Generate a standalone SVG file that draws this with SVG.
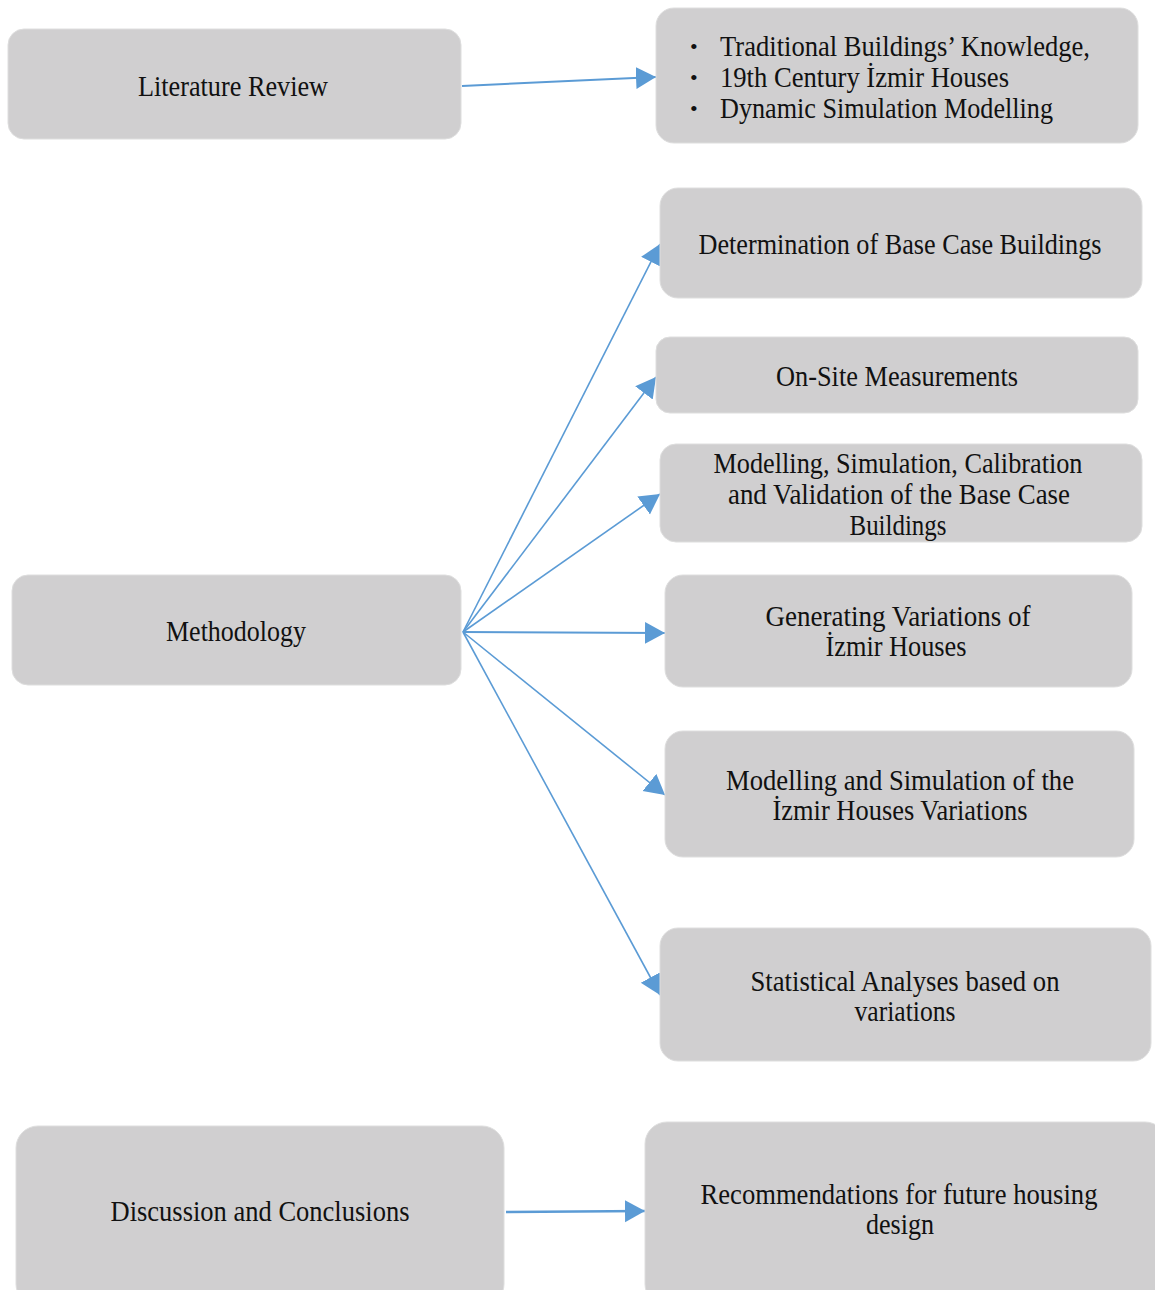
<svg xmlns="http://www.w3.org/2000/svg" width="1155" height="1290" viewBox="0 0 1155 1290">
  <style>
    .box { fill: #d0cfd0; stroke: #dedede; stroke-width: 1; }
    .lbl { font-family: "Liberation Serif", "Times New Roman", serif; font-size: 29px; fill: #111; }
    .dot { font-family: "Liberation Serif", "Times New Roman", serif; font-size: 22px; fill: #111; }
    .mid { text-anchor: middle; }
    .edge { stroke: #5b9bd5; stroke-width: 1.6; fill: none; marker-end: url(#head); }
  </style>
  <defs>
    <marker id="head" markerUnits="userSpaceOnUse" markerWidth="22" markerHeight="24" refX="20" refY="12" orient="auto">
      <path d="M0,1 L20,12 L0,23 z" fill="#5b9bd5"/>
    </marker>
  </defs>
  <rect width="1155" height="1290" fill="#fff"/>

  <g id="connectors">
    <line class="edge" x1="462" y1="86" x2="656" y2="77" style="stroke-width:2"/>
    <line class="edge" x1="463" y1="632" x2="660" y2="244"/>
    <line class="edge" x1="463" y1="632" x2="656" y2="377"/>
    <line class="edge" x1="463" y1="632" x2="660" y2="494"/>
    <line class="edge" x1="463" y1="632" x2="665" y2="633" style="stroke-width:2"/>
    <line class="edge" x1="463" y1="632" x2="665" y2="795"/>
    <line class="edge" x1="463" y1="632" x2="660" y2="995"/>
    <line class="edge" x1="506" y1="1212" x2="645" y2="1211" style="stroke-width:2.4"/>
  </g>

  <g id="literature-review">
    <rect class="box" x="8" y="29" width="453" height="110" rx="16"/>
    <text class="lbl mid" x="233" y="96" textLength="190" lengthAdjust="spacingAndGlyphs">Literature Review</text>
  </g>

  <g id="review-topics">
    <rect class="box" x="656" y="8" width="482" height="135" rx="18"/>
    <text class="dot" x="690" y="54">•</text>
    <text class="dot" x="690" y="85">•</text>
    <text class="dot" x="690" y="116">•</text>
    <text class="lbl" x="720" y="56" textLength="370" lengthAdjust="spacingAndGlyphs">Traditional Buildings’ Knowledge,</text>
    <text class="lbl" x="720" y="87" textLength="289" lengthAdjust="spacingAndGlyphs">19th Century İzmir Houses</text>
    <text class="lbl" x="720" y="118" textLength="333" lengthAdjust="spacingAndGlyphs">Dynamic Simulation Modelling</text>
  </g>

  <g id="base-case">
    <rect class="box" x="660" y="188" width="482" height="110" rx="18"/>
    <text class="lbl mid" x="900" y="254" textLength="403" lengthAdjust="spacingAndGlyphs">Determination of Base Case Buildings</text>
  </g>

  <g id="on-site">
    <rect class="box" x="656" y="337" width="482" height="76" rx="14"/>
    <text class="lbl mid" x="897" y="386" textLength="242" lengthAdjust="spacingAndGlyphs">On-Site Measurements</text>
  </g>

  <g id="calibration">
    <rect class="box" x="660" y="444" width="482" height="98" rx="16"/>
    <text class="lbl mid" x="898" y="473" textLength="369" lengthAdjust="spacingAndGlyphs">Modelling, Simulation, Calibration</text>
    <text class="lbl mid" x="899" y="504" textLength="342" lengthAdjust="spacingAndGlyphs">and Validation of the Base Case</text>
    <text class="lbl mid" x="898" y="535" textLength="97" lengthAdjust="spacingAndGlyphs">Buildings</text>
  </g>

  <g id="methodology">
    <rect class="box" x="12" y="575" width="449" height="110" rx="16"/>
    <text class="lbl mid" x="236" y="641" textLength="140" lengthAdjust="spacingAndGlyphs">Methodology</text>
  </g>

  <g id="variations">
    <rect class="box" x="665" y="575" width="467" height="112" rx="18"/>
    <text class="lbl mid" x="898" y="626" textLength="265" lengthAdjust="spacingAndGlyphs">Generating Variations of</text>
    <text class="lbl mid" x="896" y="656" textLength="141" lengthAdjust="spacingAndGlyphs">İzmir Houses</text>
  </g>

  <g id="variation-simulation">
    <rect class="box" x="665" y="731" width="469" height="126" rx="18"/>
    <text class="lbl mid" x="900" y="790" textLength="348" lengthAdjust="spacingAndGlyphs">Modelling and Simulation of the</text>
    <text class="lbl mid" x="900" y="820" textLength="255" lengthAdjust="spacingAndGlyphs">İzmir Houses Variations</text>
  </g>

  <g id="statistics">
    <rect class="box" x="660" y="928" width="491" height="133" rx="18"/>
    <text class="lbl mid" x="905" y="991" textLength="309" lengthAdjust="spacingAndGlyphs">Statistical Analyses based on</text>
    <text class="lbl mid" x="905" y="1021" textLength="101" lengthAdjust="spacingAndGlyphs">variations</text>
  </g>

  <g id="discussion">
    <rect class="box" x="16" y="1126" width="488" height="180" rx="22"/>
    <text class="lbl mid" x="260" y="1221" textLength="299" lengthAdjust="spacingAndGlyphs">Discussion and Conclusions</text>
  </g>

  <g id="recommendations">
    <rect class="box" x="645" y="1122" width="522" height="184" rx="22"/>
    <text class="lbl mid" x="899" y="1204" textLength="397" lengthAdjust="spacingAndGlyphs">Recommendations for future housing</text>
    <text class="lbl mid" x="900" y="1234" textLength="68" lengthAdjust="spacingAndGlyphs">design</text>
  </g>
</svg>
